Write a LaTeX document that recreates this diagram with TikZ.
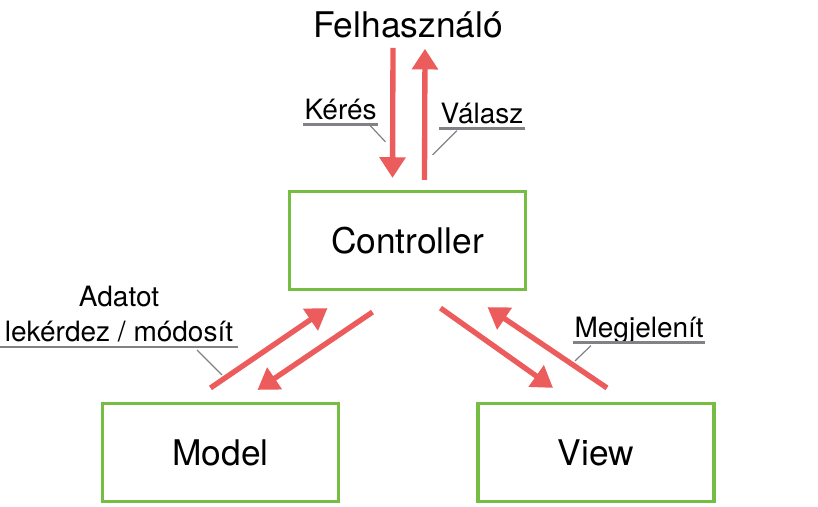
\documentclass[tikz,border=0pt]{standalone}
\usepackage{fontspec}
\setmainfont{TeX Gyre Heros}
\usetikzlibrary{arrows.meta}
\usetikzlibrary{calc}
\usetikzlibrary{positioning}
\definecolor{boxgreen}{RGB}{118,190,67}
\definecolor{flowred}{RGB}{236,92,92}
\definecolor{leadgray}{RGB}{128,130,134}
\begin{document}
\begin{tikzpicture}[x=0.75pt, y=-0.75pt,
    part/.style={draw=boxgreen, line width=2.4pt, minimum width=177pt,
      minimum height=73.5pt, font=\fontsize{26.5}{30}\selectfont},
    flow/.style={draw=flowred, line width=4pt,
      -{Triangle[length=15.5pt, width=19pt]}},
    lbl/.style={inner xsep=1pt, inner ysep=4pt, text depth=0pt,
      font=\fontsize{21}{26}\selectfont},
    uline/.style={draw=leadgray, line width=2pt},
    leader/.style={draw=leadgray, line width=0.9pt}]

    \useasboundingbox (0, 0) rectangle (818, 507);

    \node[anchor=base, inner sep=0pt, font=\fontsize{26.5}{30}\selectfont]
      (user) at (408, 37) {Felhasználó};
    \node[part] (ctrl) at (407.5, 240.5) {Controller};
    \node[part] (model) at (220.5, 452.5) {Model};
    \node[part] (view) at (596, 452.5) {View};

    \draw[flow] ($(user.south)+(-15, 10)$) -- ($(ctrl.north)+(-15, -12)$);
    \draw[flow] ($(ctrl.north)+(17, -10)$) -- ($(user.south)+(17, 11)$);

    \draw[flow] ($(model.north)+(-10, -14)$) -- ($(ctrl.south)+(-80, 17)$);
    \draw[flow] ($(ctrl.south)+(-35, 21)$) -- ($(model.north)+(37, -12)$);

    \draw[flow] ($(ctrl.south)+(33, 17)$) -- ($(view.north)+(-43, -14)$);
    \draw[flow] ($(view.north)+(11, -14)$) -- ($(ctrl.south)+(80, 16)$);

    \node[lbl, anchor=base west] (keres) at (303, 119) {Kérés};
    \draw[uline] (keres.south west) -- (keres.south east);
    \draw[leader] ($(keres.south east)+(-8, 1)$) -- ($(ctrl.north)+(-22, -48)$);

    \node[lbl, anchor=base west] (valasz) at (439, 123) {Válasz};
    \draw[uline] (valasz.south west) -- (valasz.south east);
    \draw[leader] ($(valasz.south west)+(18, 2)$) -- ($(ctrl.north)+(25, -35)$);

    \node[lbl, align=center, anchor=south, inner xsep=3.5pt]
      (adat) at (119, 347) {Adatot\\lekérdez / módosít};
    \draw[uline] (adat.south west) -- (adat.south east);
    \draw[leader] ($(adat.south east)+(-41, 3)$) -- ($(model.north)+(1.5, -27)$);

    \node[lbl, anchor=base west] (megj) at (573, 337) {Megjelenít};
    \draw[uline] (megj.south west) -- (megj.south east);
    \draw[leader] ($(megj.south west)+(18, 3)$) -- ($(view.north)+(-21, -41)$);

  \end{tikzpicture}
\end{document}
